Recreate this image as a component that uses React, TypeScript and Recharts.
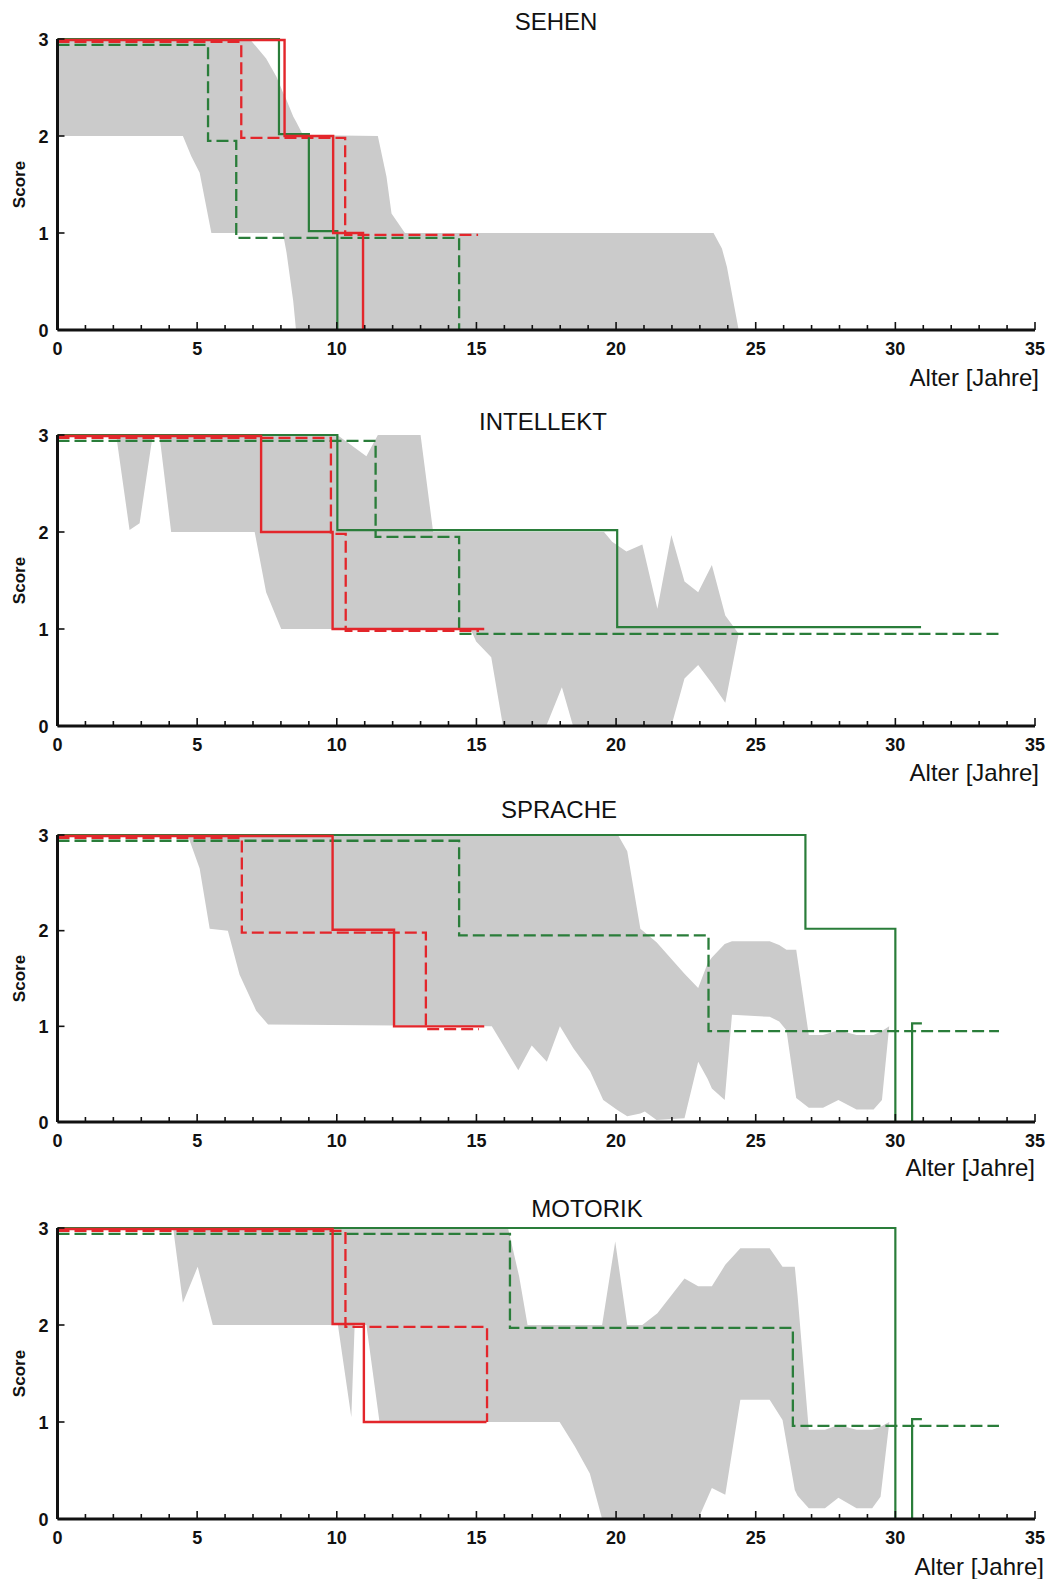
import React from 'react';
import { ComposedChart, Area, Line, XAxis, YAxis } from 'recharts';

const FONT = '"Liberation Sans", Arial, Helvetica, sans-serif';
const RED = '#e3262b';
const GREEN = '#2a7d3a';
const BAND = '#cbcbcb';
const INK = '#111111';

const xTicks = [0, 1, 2, 3, 4, 5, 6, 7, 8, 9, 10, 11, 12, 13, 14, 15, 16, 17, 18, 19, 20, 21, 22, 23, 24, 25, 26, 27, 28, 29, 30, 31, 32, 33, 34, 35];
const yTicks = [0, 1, 2, 3];

// SEHEN
const sehenBand = [
  { x: 0, lo: 2, hi: 3 }, { x: 4.49, lo: 2, hi: 3 }, { x: 4.79, lo: 1.79, hi: 3 }, { x: 5.09, lo: 1.62, hi: 3 },
  { x: 5.51, lo: 1, hi: 3 }, { x: 6.88, lo: 1, hi: 3 }, { x: 7.47, lo: 1, hi: 2.8 }, { x: 7.84, lo: 1, hi: 2.61 },
  { x: 8.07, lo: 1, hi: 2.45 }, { x: 8.2, lo: 0.8, hi: 2.37 }, { x: 8.44, lo: 0.3, hi: 2.2 }, { x: 8.54, lo: 0, hi: 2.15 },
  { x: 8.79, lo: 0, hi: 2.01 }, { x: 11.47, lo: 0, hi: 2 }, { x: 11.78, lo: 0, hi: 1.58 }, { x: 11.96, lo: 0, hi: 1.2 },
  { x: 12.44, lo: 0, hi: 1 }, { x: 23.49, lo: 0, hi: 1 }, { x: 23.79, lo: 0, hi: 0.84 }, { x: 23.97, lo: 0, hi: 0.65 },
  { x: 24.39, lo: 0, hi: 0 },
];
const sehenRedSolid = [{ x: 0, y: 2.99 }, { x: 8.13, y: 2.0 }, { x: 9.87, y: 1.0 }, { x: 10.94, y: 0 }];
const sehenRedDashed = [{ x: 0, y: 2.97 }, { x: 6.58, y: 1.98 }, { x: 10.3, y: 0.98 }, { x: 15.06, y: 0.98 }];
const sehenGreenSolid = [{ x: 0, y: 3 }, { x: 7.93, y: 2.02 }, { x: 9.0, y: 1.02 }, { x: 10.02, y: 0 }];
const sehenGreenDashed = [{ x: 0, y: 2.94 }, { x: 5.39, y: 1.95 }, { x: 6.4, y: 0.95 }, { x: 14.38, y: 0 }];

// INTELLEKT
const intellektBand = [
  { x: 0, lo: 3, hi: 3 }, { x: 2.1, lo: 3, hi: 3 }, { x: 2.58, lo: 2.02, hi: 3 }, { x: 2.94, lo: 2.09, hi: 3 },
  { x: 3.41, lo: 3, hi: 3 }, { x: 3.65, lo: 3, hi: 3 }, { x: 4.07, lo: 2, hi: 3 }, { x: 7.06, lo: 2, hi: 3 },
  { x: 7.47, lo: 1.38, hi: 3 }, { x: 8.01, lo: 1, hi: 3 }, { x: 10.02, lo: 1, hi: 3 }, { x: 11.06, lo: 1, hi: 2.78 },
  { x: 11.47, lo: 1, hi: 3 }, { x: 13.0, lo: 1, hi: 3 }, { x: 13.45, lo: 1, hi: 2 }, { x: 14.79, lo: 1, hi: 2 },
  { x: 14.99, lo: 0.87, hi: 2 }, { x: 15.53, lo: 0.71, hi: 2 }, { x: 15.95, lo: 0, hi: 2 }, { x: 17.5, lo: 0, hi: 2 },
  { x: 18.06, lo: 0.4, hi: 2 }, { x: 18.46, lo: 0, hi: 2 }, { x: 19.57, lo: 0, hi: 2 }, { x: 19.86, lo: 0, hi: 1.9 },
  { x: 20.37, lo: 0, hi: 1.8 }, { x: 20.94, lo: 0, hi: 1.87 }, { x: 21.48, lo: 0, hi: 1.21 }, { x: 21.98, lo: 0, hi: 1.97 },
  { x: 22.45, lo: 0.49, hi: 1.49 }, { x: 22.94, lo: 0.63, hi: 1.38 }, { x: 23.43, lo: 0.44, hi: 1.66 },
  { x: 23.91, lo: 0.24, hi: 1.14 }, { x: 24.39, lo: 0.95, hi: 0.95 },
];
const intellektRedSolid = [{ x: 0, y: 2.99 }, { x: 7.29, y: 2.0 }, { x: 9.85, y: 1.0 }, { x: 15.28, y: 1.0 }];
const intellektRedDashed = [{ x: 0, y: 2.97 }, { x: 9.79, y: 1.98 }, { x: 10.32, y: 0.98 }, { x: 15.09, y: 0.98 }];
const intellektGreenSolid = [{ x: 0, y: 3 }, { x: 10.02, y: 2.02 }, { x: 20.04, y: 1.02 }, { x: 30.92, y: 1.02 }];
const intellektGreenDashed = [{ x: 0, y: 2.94 }, { x: 11.39, y: 1.95 }, { x: 14.38, y: 0.95 }, { x: 33.71, y: 0.95 }];

// SPRACHE
const spracheBand = [
  { x: 0, lo: 3, hi: 3 }, { x: 4.66, lo: 3, hi: 3 }, { x: 5.09, lo: 2.65, hi: 3 }, { x: 5.45, lo: 2.02, hi: 3 },
  { x: 6.1, lo: 2, hi: 3 }, { x: 6.52, lo: 1.54, hi: 3 }, { x: 7.12, lo: 1.16, hi: 3 }, { x: 7.54, lo: 1.02, hi: 3 },
  { x: 15.55, lo: 1, hi: 3 }, { x: 16.5, lo: 0.54, hi: 3 }, { x: 16.98, lo: 0.8, hi: 3 }, { x: 17.52, lo: 0.63, hi: 3 },
  { x: 17.99, lo: 1.0, hi: 3 }, { x: 18.47, lo: 0.77, hi: 3 }, { x: 19.07, lo: 0.53, hi: 3 }, { x: 19.54, lo: 0.23, hi: 3 },
  { x: 20.07, lo: 0.12, hi: 3 }, { x: 20.4, lo: 0.06, hi: 2.83 }, { x: 20.87, lo: 0.09, hi: 2.02 },
  { x: 21.03, lo: 0.11, hi: 1.98 }, { x: 21.45, lo: 0.02, hi: 1.88 }, { x: 22.45, lo: 0.04, hi: 1.55 },
  { x: 22.94, lo: 0.63, hi: 1.4 }, { x: 23.28, lo: 0.45, hi: 1.66 }, { x: 23.43, lo: 0.35, hi: 1.72 },
  { x: 23.89, lo: 0.23, hi: 1.86 }, { x: 24.15, lo: 1.12, hi: 1.89 }, { x: 25.5, lo: 1.1, hi: 1.89 },
  { x: 25.84, lo: 1.05, hi: 1.85 }, { x: 26.1, lo: 0.96, hi: 1.8 }, { x: 26.45, lo: 0.25, hi: 1.8 },
  { x: 26.9, lo: 0.15, hi: 0.91 }, { x: 27.41, lo: 0.15, hi: 0.91 }, { x: 27.96, lo: 0.23, hi: 0.96 },
  { x: 28.61, lo: 0.13, hi: 0.91 }, { x: 29.22, lo: 0.13, hi: 0.91 }, { x: 29.52, lo: 0.23, hi: 0.95 },
  { x: 29.78, lo: 1.0, hi: 1.0 },
];
const spracheRedSolid = [{ x: 0, y: 2.99 }, { x: 9.85, y: 2.01 }, { x: 12.05, y: 1.0 }, { x: 15.28, y: 1.0 }];
const spracheRedDashed = [{ x: 0, y: 2.97 }, { x: 6.6, y: 1.98 }, { x: 13.19, y: 0.97 }, { x: 15.09, y: 0.97 }];
const spracheGreenSolid = [{ x: 0, y: 3 }, { x: 26.78, y: 2.02 }, { x: 30.0, y: 0 }];
const spracheGreenSolidEnd = [{ x: 30.6, y: 0 }, { x: 30.6, y: 1.03 }, { x: 30.95, y: 1.03 }];
const spracheGreenDashed = [{ x: 0, y: 2.94 }, { x: 14.38, y: 1.95 }, { x: 23.31, y: 0.95 }, { x: 33.71, y: 0.95 }];

// MOTORIK
const motorikBand = [
  { x: 0, lo: 3, hi: 3 }, { x: 4.14, lo: 3, hi: 3 }, { x: 4.49, lo: 2.23, hi: 3 }, { x: 5.02, lo: 2.6, hi: 3 },
  { x: 5.56, lo: 2, hi: 3 }, { x: 10.04, lo: 2, hi: 3 }, { x: 10.52, lo: 1.05, hi: 3 }, { x: 10.64, lo: 2, hi: 3 },
  { x: 11.06, lo: 2, hi: 3 }, { x: 11.53, lo: 1, hi: 3 }, { x: 16.13, lo: 1, hi: 3 }, { x: 16.53, lo: 1, hi: 2.5 },
  { x: 16.83, lo: 1, hi: 2 }, { x: 17.98, lo: 1, hi: 2 }, { x: 18.52, lo: 0.75, hi: 2 }, { x: 19.06, lo: 0.47, hi: 2 },
  { x: 19.5, lo: 0, hi: 2 }, { x: 19.97, lo: 0, hi: 2.86 }, { x: 20.4, lo: 0, hi: 2 }, { x: 20.94, lo: 0, hi: 2 },
  { x: 21.48, lo: 0, hi: 2.12 }, { x: 22.45, lo: 0, hi: 2.48 }, { x: 22.94, lo: 0, hi: 2.4 }, { x: 23.43, lo: 0.32, hi: 2.4 },
  { x: 23.91, lo: 0.25, hi: 2.62 }, { x: 24.45, lo: 1.23, hi: 2.79 }, { x: 25.5, lo: 1.23, hi: 2.79 },
  { x: 25.96, lo: 1.02, hi: 2.6 }, { x: 26.4, lo: 0.3, hi: 2.6 }, { x: 26.5, lo: 0.24, hi: 2.3 },
  { x: 26.9, lo: 0.11, hi: 0.92 }, { x: 27.48, lo: 0.11, hi: 0.92 }, { x: 27.96, lo: 0.22, hi: 0.97 },
  { x: 28.61, lo: 0.11, hi: 0.92 }, { x: 29.17, lo: 0.11, hi: 0.92 }, { x: 29.47, lo: 0.23, hi: 0.95 },
  { x: 29.78, lo: 0.99, hi: 1.0 },
];
const motorikRedSolid = [{ x: 0, y: 2.99 }, { x: 9.85, y: 2.01 }, { x: 10.97, y: 1.0 }, { x: 15.36, y: 1.0 }];
const motorikRedDashed = [{ x: 0, y: 2.97 }, { x: 10.31, y: 1.98 }, { x: 15.38, y: 1.0 }];
const motorikGreenSolid = [{ x: 0, y: 3 }, { x: 30.0, y: 0 }];
const motorikGreenSolidEnd = [{ x: 30.6, y: 0 }, { x: 30.6, y: 1.03 }, { x: 30.95, y: 1.03 }];
const motorikGreenDashed = [{ x: 0, y: 2.94 }, { x: 16.2, y: 1.97 }, { x: 26.33, y: 0.96 }, { x: 33.71, y: 0.96 }];

const panels = [
  { title: 'SEHEN', band: sehenBand, redSolid: sehenRedSolid, redDashed: sehenRedDashed, greenSolid: sehenGreenSolid, greenSolidEnd: null, greenDashed: sehenGreenDashed },
  { title: 'INTELLEKT', band: intellektBand, redSolid: intellektRedSolid, redDashed: intellektRedDashed, greenSolid: intellektGreenSolid, greenSolidEnd: null, greenDashed: intellektGreenDashed },
  { title: 'SPRACHE', band: spracheBand, redSolid: spracheRedSolid, redDashed: spracheRedDashed, greenSolid: spracheGreenSolid, greenSolidEnd: spracheGreenSolidEnd, greenDashed: spracheGreenDashed },
  { title: 'MOTORIK', band: motorikBand, redSolid: motorikRedSolid, redDashed: motorikRedDashed, greenSolid: motorikGreenSolid, greenSolidEnd: motorikGreenSolidEnd, greenDashed: motorikGreenDashed },
];

// page layout of each panel (plot top / bottom, title and axis title placement)
const layout = [
  { y3: 39, y0: 330, titleX: 556, titleY: 30, alterX: 1039, alterY: 386 },
  { y3: 435, y0: 726, titleX: 543, titleY: 430, alterX: 1039, alterY: 781 },
  { y3: 835, y0: 1122, titleX: 559, titleY: 818, alterX: 1035, alterY: 1176 },
  { y3: 1228, y0: 1519, titleX: 587, titleY: 1217, alterX: 1044, alterY: 1575 },
];

const W = 1051;
const PAD = 12;
const XAXIS_H = 45;
const Y_W = 57.5;
const RIGHT = 16;

const XTick = (props: any) => {
  const { x, y, payload } = props;
  const v = payload.value;
  const major = v % 5 === 0;
  return (
    <g>
      <line x1={x} x2={x} y1={y} y2={y - (major ? 8 : 5)} stroke={INK} strokeWidth={1.6} />
      {major && (
        <text x={x} y={y + 25} textAnchor="middle" fontFamily={FONT} fontWeight="bold" fontSize={18} fill={INK}>
          {v}
        </text>
      )}
    </g>
  );
};

const YTick = (props: any) => {
  const { x, y, payload } = props;
  return (
    <g>
      <line x1={x} x2={x + 7} y1={y} y2={y} stroke={INK} strokeWidth={1.6} />
      <text x={x - 9} y={y + 6.5} textAnchor="end" fontFamily={FONT} fontWeight="bold" fontSize={18} fill={INK}>
        {payload.value}
      </text>
    </g>
  );
};

const Panel = ({ p, l }: any) => {
  const h = l.y0 - l.y3 + PAD + XAXIS_H;
  return (
    <div style={{ position: 'absolute', left: 0, top: l.y3 - PAD }}>
      <ComposedChart width={W} height={h} margin={{ top: PAD, right: RIGHT, bottom: 0, left: 0 }}>
        <XAxis
          type="number"
          dataKey="x"
          domain={[0, 35]}
          ticks={xTicks}
          interval={0}
          tickSize={0}
          tickMargin={0}
          height={XAXIS_H}
          axisLine={{ stroke: INK, strokeWidth: 3 }}
          tickLine={false}
          tick={XTick}
        />
        <YAxis
          type="number"
          domain={[0, 3]}
          ticks={yTicks}
          interval={0}
          width={Y_W}
          tickSize={0}
          tickMargin={0}
          axisLine={{ stroke: INK, strokeWidth: 3 }}
          tickLine={false}
          tick={YTick}
        />
        <Area
          data={p.band}
          dataKey={(d: any) => [d.lo, d.hi]}
          type="linear"
          stroke="none"
          fill={BAND}
          fillOpacity={1}
          isAnimationActive={false}
        />
        <Line data={p.greenDashed} dataKey="y" type="stepAfter" stroke={GREEN} strokeWidth={2.3} strokeDasharray="12 5" dot={false} activeDot={false} isAnimationActive={false} />
        <Line data={p.redDashed} dataKey="y" type="stepAfter" stroke={RED} strokeWidth={2.3} strokeDasharray="12 5" dot={false} activeDot={false} isAnimationActive={false} />
        <Line data={p.greenSolid} dataKey="y" type="stepAfter" stroke={GREEN} strokeWidth={2.2} dot={false} activeDot={false} isAnimationActive={false} />
        {p.greenSolidEnd && (
          <Line data={p.greenSolidEnd} dataKey="y" type="linear" stroke={GREEN} strokeWidth={2.2} dot={false} activeDot={false} isAnimationActive={false} />
        )}
        <Line data={p.redSolid} dataKey="y" type="stepAfter" stroke={RED} strokeWidth={2.4} dot={false} activeDot={false} isAnimationActive={false} />
      </ComposedChart>
    </div>
  );
};

export default function App() {
  return (
    <div style={{ position: 'absolute', left: 0, top: 0, width: W, height: 1579, background: '#fff' }}>
      {panels.map((p, i) => (
        <Panel key={p.title} p={p} l={layout[i]} />
      ))}
      <svg width={W} height={1579} style={{ position: 'absolute', left: 0, top: 0, pointerEvents: 'none' }}>
        {panels.map((p, i) => {
          const l = layout[i];
          const cy = (l.y3 + l.y0) / 2;
          return (
            <g key={p.title}>
              <text x={l.titleX} y={l.titleY} textAnchor="middle" fontFamily={FONT} fontSize={24} fill={INK}>
                {p.title}
              </text>
              <text x={l.alterX} y={l.alterY} textAnchor="end" fontFamily={FONT} fontSize={24} fill={INK}>
                Alter [Jahre]
              </text>
              <text transform={`translate(25, ${cy}) rotate(-90)`} textAnchor="middle" fontFamily={FONT} fontWeight="bold" fontSize={17} fill={INK}>
                Score
              </text>
            </g>
          );
        })}
      </svg>
    </div>
  );
}
